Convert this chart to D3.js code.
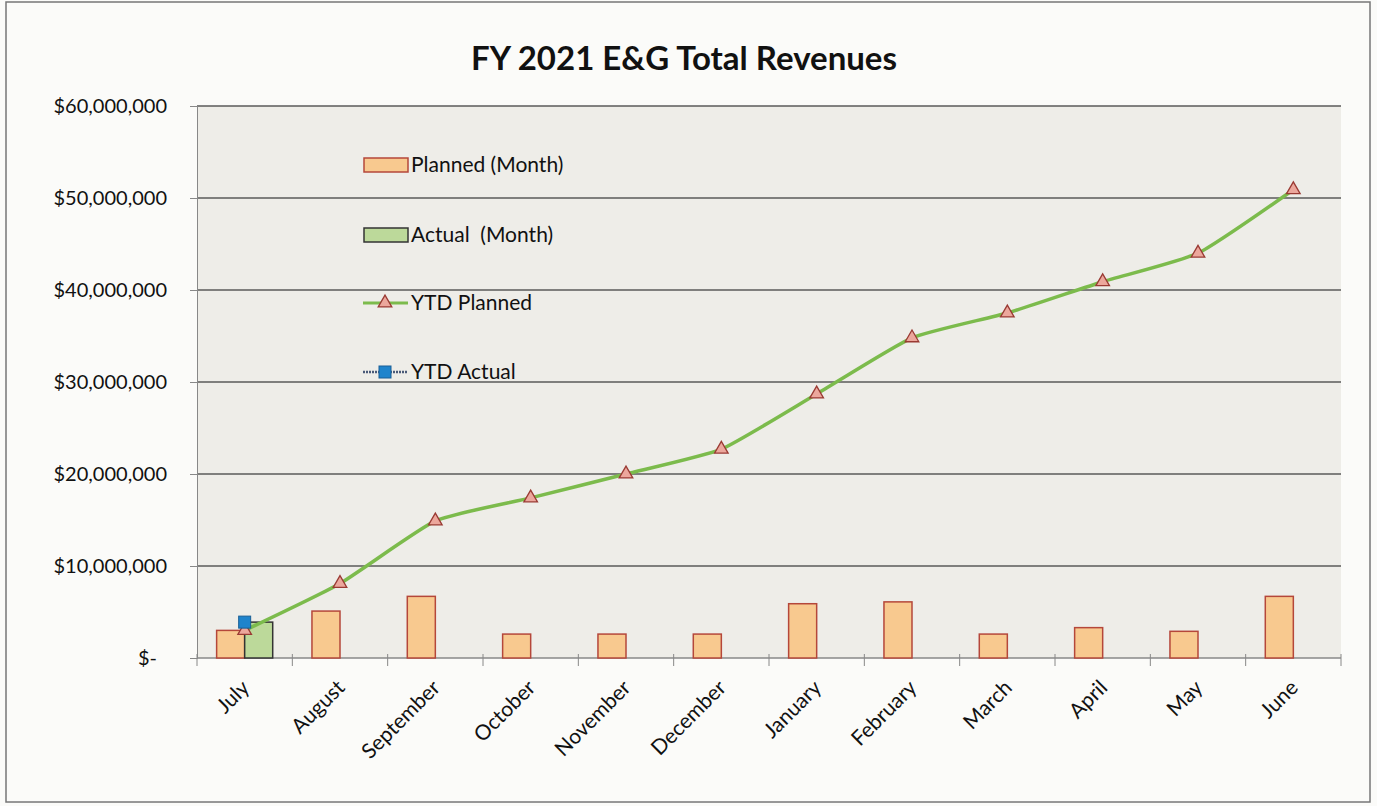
<!DOCTYPE html>
<html>
<head>
<meta charset="utf-8">
<script src="https://cdn.jsdelivr.net/npm/d3@7"></script>
<style>
  body { margin: 0; background: #fbfbf9; }
  text { font-family: Lato, "Open Sans", sans-serif; fill: #111; }
</style>
</head>
<body>
<svg id="chart" width="1377" height="806"></svg>
<script>
// Data
const months = ['July', 'August', 'September', 'October', 'November', 'December',
    'January', 'February', 'March', 'April', 'May', 'June'];
const plannedMonth = [3.0e6, 5.1e6, 6.7e6, 2.6e6, 2.6e6, 2.6e6, 5.9e6, 6.1e6, 2.6e6, 3.3e6, 2.9e6, 6.7e6];
const actualMonth = [3.9e6];
const ytdPlanned = [3.0e6, 8.1e6, 14.9e6, 17.4e6, 20.0e6, 22.7e6, 28.7e6, 34.8e6, 37.5e6, 40.9e6, 44.0e6, 50.9e6];
const ytdActual = [3.9e6];
const yTicks = [0, 10e6, 20e6, 30e6, 40e6, 50e6, 60e6];

const svg = d3.select('#chart');

// outer chart frame
svg.append('rect')
    .attr('x', 6).attr('y', 2).attr('width', 1364).attr('height', 800)
    .attr('fill', '#fbfbf9').attr('stroke', '#777').attr('stroke-width', 1.5);

const margin = { left: 197, right: 1341, top: 106, bottom: 658 };

const x = d3.scaleBand().domain(months).range([margin.left, margin.right]);
const xInner = d3.scaleBand().domain(['planned', 'actual'])
    .range([0, x.bandwidth()]).paddingOuter(0.7);
const y = d3.scaleLinear().domain([0, 60e6]).range([margin.bottom, margin.top]);

// plot area background
svg.append('rect')
    .attr('x', margin.left).attr('y', margin.top)
    .attr('width', margin.right - margin.left).attr('height', margin.bottom - margin.top)
    .attr('fill', '#eeede8');

// gridlines
svg.append('g').selectAll('line')
    .data(yTicks.filter(d => d > 0))
    .join('line')
    .attr('x1', margin.left).attr('x2', margin.right)
    .attr('y1', d => y(d)).attr('y2', d => y(d))
    .attr('stroke', '#5a5a5a').attr('stroke-width', 1.5);

// title
svg.append('text')
    .attr('x', 684).attr('y', 70)
    .attr('text-anchor', 'middle')
    .attr('font-size', 33).attr('font-weight', 'bold')
    .text('FY 2021 E&G Total Revenues');

// y axis
const fmt = d3.format('$,.0f');
const yAxis = svg.append('g')
    .attr('transform', `translate(${margin.left},0)`)
    .call(d3.axisLeft(y).tickValues(yTicks).tickSize(7).tickPadding(23)
        .tickFormat(d => d === 0 ? '$-' : fmt(d)));
yAxis.select('.domain').attr('stroke', '#888');
yAxis.selectAll('.tick line').attr('stroke', '#888');
yAxis.selectAll('.tick text').attr('font-size', 20).attr('fill', '#111')
    .attr('font-family', 'Lato, "Open Sans", sans-serif')
    .attr('dx', d => d === 0 ? -10 : 0);

// x axis
const xAxisG = svg.append('g').attr('transform', `translate(0,${margin.bottom})`);
xAxisG.append('line')
    .attr('x1', margin.left).attr('x2', margin.right)
    .attr('y1', 0).attr('y2', 0).attr('stroke', '#888').attr('stroke-width', 1.5);
xAxisG.selectAll('.xtick')
    .data(d3.range(months.length + 1))
    .join('line')
    .attr('x1', i => margin.left + i * x.step()).attr('x2', i => margin.left + i * x.step())
    .attr('y1', -4).attr('y2', 8).attr('stroke', '#888');
xAxisG.selectAll('.xlabel')
    .data(months)
    .join('text')
    .attr('text-anchor', 'end')
    .attr('font-size', 21)
    .attr('transform', d => `translate(${x(d) + x.bandwidth() / 2 + 6},${31}) rotate(-45)`)
    .text(d => d);

// monthly bars
svg.append('g').selectAll('rect')
    .data(plannedMonth)
    .join('rect')
    .attr('x', (d, i) => x(months[i]) + xInner('planned'))
    .attr('y', d => y(d))
    .attr('width', xInner.bandwidth())
    .attr('height', d => y(0) - y(d))
    .attr('fill', '#f8c98f').attr('stroke', '#b5473a').attr('stroke-width', 1.5);

svg.append('g').selectAll('rect')
    .data(actualMonth)
    .join('rect')
    .attr('x', (d, i) => x(months[i]) + xInner('actual'))
    .attr('y', d => y(d))
    .attr('width', xInner.bandwidth())
    .attr('height', d => y(0) - y(d))
    .attr('fill', '#bcd99a').attr('stroke', '#333').attr('stroke-width', 1.5);

// YTD planned line (smoothed)
const cx = (d, i) => x(months[i]) + x.bandwidth() / 2;
const line = d3.line().x(cx).y(d => y(d)).curve(d3.curveCardinal.tension(0.5));
svg.append('path')
    .datum(ytdPlanned)
    .attr('d', line)
    .attr('fill', 'none').attr('stroke', '#7cbb4c').attr('stroke-width', 3.5);

const tri = d3.symbol().type(d3.symbolTriangle).size(80);
svg.append('g').selectAll('path')
    .data(ytdPlanned)
    .join('path')
    .attr('d', tri)
    .attr('transform', (d, i) => `translate(${cx(d, i)},${y(d)})`)
    .attr('fill', '#eca79c').attr('stroke', '#9a3a33').attr('stroke-width', 1.3);

// YTD actual marker
svg.append('g').selectAll('rect')
    .data(ytdActual)
    .join('rect')
    .attr('x', (d, i) => cx(d, i) - 6).attr('y', d => y(d) - 6)
    .attr('width', 12).attr('height', 12)
    .attr('fill', '#1f84cc').attr('stroke', '#1a5f95').attr('stroke-width', 1);

// legend
const legend = svg.append('g');
const legendItems = [
    { label: 'Planned (Month)', y: 165, type: 'bar', fill: '#f8c98f', stroke: '#b5473a' },
    { label: 'Actual  (Month)', y: 235, type: 'bar', fill: '#bcd99a', stroke: '#333' },
    { label: 'YTD Planned', y: 303, type: 'tri' },
    { label: 'YTD Actual', y: 372, type: 'sq' }
];
legendItems.forEach(item => {
    if (item.type === 'bar') {
        legend.append('rect')
            .attr('x', 364).attr('y', item.y - 7).attr('width', 44).attr('height', 14)
            .attr('fill', item.fill).attr('stroke', item.stroke).attr('stroke-width', 1.5);
    } else if (item.type === 'tri') {
        legend.append('line').attr('x1', 363).attr('x2', 408)
            .attr('y1', item.y).attr('y2', item.y)
            .attr('stroke', '#7cbb4c').attr('stroke-width', 3);
        legend.append('path').attr('d', tri)
            .attr('transform', `translate(385,${item.y})`)
            .attr('fill', '#eca79c').attr('stroke', '#9a3a33').attr('stroke-width', 1.3);
    } else {
        legend.append('line').attr('x1', 363).attr('x2', 408)
            .attr('y1', item.y).attr('y2', item.y)
            .attr('stroke', '#4a5a78').attr('stroke-width', 2.5)
            .attr('stroke-dasharray', '2,1');
        legend.append('rect').attr('x', 379).attr('y', item.y - 6)
            .attr('width', 12).attr('height', 12)
            .attr('fill', '#1f84cc').attr('stroke', '#1a5f95');
    }
    legend.append('text')
        .attr('x', 411).attr('y', item.y).attr('dy', '0.35em')
        .attr('font-size', 21)
        .attr('xml:space', 'preserve')
        .text(item.label);
});
</script>
</body>
</html>
